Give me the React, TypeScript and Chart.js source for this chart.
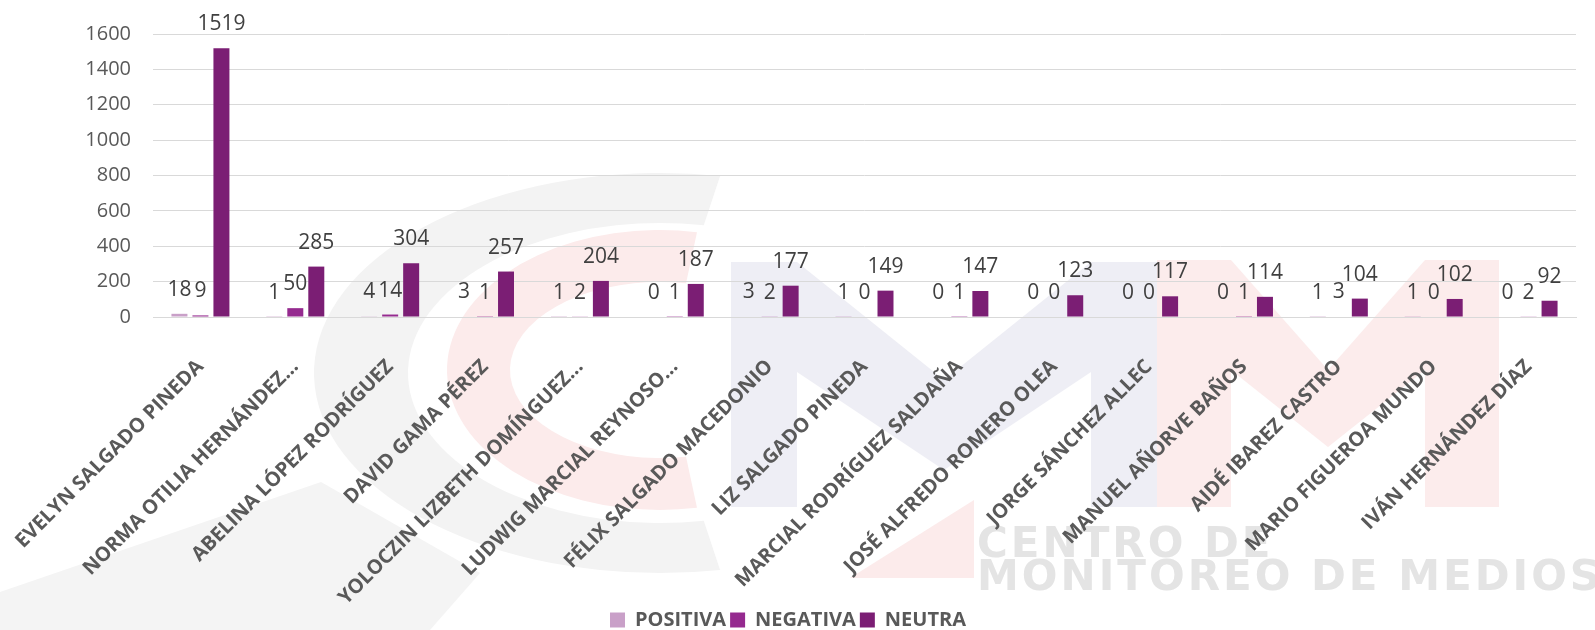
import React, { useEffect, useRef } from "react";
import { Chart, registerables } from "chart.js";

Chart.register(...registerables);

const CATEGORIES = [
  "EVELYN SALGADO PINEDA",
  "NORMA OTILIA HERNÁNDEZ...",
  "ABELINA LÓPEZ RODRÍGUEZ",
  "DAVID GAMA PÉREZ",
  "YOLOCZIN LIZBETH DOMÍNGUEZ...",
  "LUDWIG MARCIAL REYNOSO...",
  "FÉLIX SALGADO MACEDONIO",
  "LIZ SALGADO PINEDA",
  "MARCIAL RODRÍGUEZ SALDAÑA",
  "JOSÉ ALFREDO ROMERO OLEA",
  "JORGE SÁNCHEZ ALLEC",
  "MANUEL AÑORVE BAÑOS",
  "AIDÉ IBAREZ CASTRO",
  "MARIO FIGUEROA MUNDO",
  "IVÁN HERNÁNDEZ DÍAZ",
];
const POSITIVA = [18, 1, 4, 3, 1, 0, 3, 1, 0, 0, 0, 0, 1, 1, 0];
const NEGATIVA = [9, 50, 14, 1, 2, 1, 2, 0, 1, 0, 0, 1, 3, 0, 2];
const NEUTRA = [1519, 285, 304, 257, 204, 187, 177, 149, 147, 123, 117, 114, 104, 102, 92];
const SERIES_NAMES = ["POSITIVA", "NEGATIVA", "NEUTRA"];
const SERIES_COLORS = ["#C9A0C8", "#952A8F", "#7B1E74"];
const Y_MIN = 0;
const Y_MAX = 1600;
const Y_STEP = 200;
const WATERMARK_LINES = ["CENTRO DE", "MONITOREO DE MEDIOS"];

const deg = Math.PI / 180;

function ring(ctx: CanvasRenderingContext2D, cx: number, cy: number, rxo: number, ryo: number, rxi: number, ryi: number, color: string) {
  const a0 = -80 * deg;
  const a1 = 80 * deg;
  ctx.beginPath();
  ctx.ellipse(cx, cy, rxo, ryo, 0, a0, a1, true);
  ctx.ellipse(cx, cy, rxi, ryi, 0, a1, a0, false);
  ctx.closePath();
  ctx.fillStyle = color;
  ctx.fill();
}

function poly(ctx: CanvasRenderingContext2D, pts: number[][], color: string) {
  ctx.beginPath();
  pts.forEach((p, i) => (i === 0 ? ctx.moveTo(p[0], p[1]) : ctx.lineTo(p[0], p[1])));
  ctx.closePath();
  ctx.fillStyle = color;
  ctx.fill();
}

function mShape(L: number, R: number, top: number, bottom: number, colW: number, valleyTop: number, valleyBottom: number) {
  const mid = (L + R) / 2;
  return [
    [L, bottom], [L, top], [L + colW, top], [mid, valleyTop], [R - colW, top], [R, top],
    [R, bottom], [R - colW, bottom], [R - colW, top + 110], [mid, valleyBottom], [L + colW, top + 110], [L + colW, bottom],
  ];
}

const watermarkPlugin = {
  id: "watermark",
  beforeDraw(chart: any) {
    const ctx: CanvasRenderingContext2D = chart.ctx;
    ctx.save();
    ctx.fillStyle = "#ffffff";
    ctx.fillRect(0, 0, chart.width, chart.height);
    // gray swoosh
    poly(ctx, [[0, 592], [321, 482], [480, 573], [430, 630], [0, 630]], "#f4f4f4");
    // gray ring
    ring(ctx, 660, 373, 346, 200, 252, 150, "#f3f3f3");
    // red ring
    ring(ctx, 660, 370, 213, 140, 150, 88, "#fcebeb");
    // blue M
    poly(ctx, mShape(731, 1157, 262, 507, 66, 380, 470), "#eeeef5");
    // pink M
    poly(ctx, mShape(1157, 1499, 260, 507, 74, 370, 447), "#fcecec");
    // red wedge
    poly(ctx, [[974, 500], [974, 578], [850, 578]], "#fcebeb");
    // text
    ctx.fillStyle = "#e4e4e4";
    ctx.font = "bold 42px 'DejaVu Sans'";
    (ctx as any).letterSpacing = "3px";
    ctx.textAlign = "left";
    ctx.textBaseline = "alphabetic";
    ctx.fillText(WATERMARK_LINES[0], 977, 557);
    ctx.fillText(WATERMARK_LINES[1], 977, 590);
    (ctx as any).letterSpacing = "0px";
    ctx.restore();
  },
};

const dataLabelPlugin = {
  id: "dataLabels",
  afterDatasetsDraw(chart: any) {
    const ctx: CanvasRenderingContext2D = chart.ctx;
    ctx.save();
    ctx.font = "21px 'Open Sans'";
    ctx.fillStyle = "#404040";
    ctx.textAlign = "center";
    ctx.textBaseline = "middle";
    chart.data.datasets.forEach((ds: any, i: number) => {
      const meta = chart.getDatasetMeta(i);
      meta.data.forEach((bar: any, j: number) => {
        ctx.fillText(String(ds.data[j]), bar.x, bar.y - 24);
      });
    });
    ctx.restore();
  },
};

const layoutFixPlugin = {
  id: "layoutFix",
  afterLayout(chart: any) {
    const lg = chart.legend;
    if (lg) {
      lg.top += 10;
      lg.bottom += 10;
      if (lg.legendHitBoxes) lg.legendHitBoxes.forEach((b: any) => (b.top += 10));
    }
    const xs = chart.scales.x;
    if (xs) xs.bottom = chart.height;
  },
};

export default function App() {
  const canvasRef = useRef<HTMLCanvasElement>(null);

  useEffect(() => {
    if (!canvasRef.current) return;
    const chart = new Chart(canvasRef.current, {
      type: "bar",
      data: {
        labels: CATEGORIES,
        datasets: [
          { label: SERIES_NAMES[0], data: POSITIVA, backgroundColor: SERIES_COLORS[0] },
          { label: SERIES_NAMES[1], data: NEGATIVA, backgroundColor: SERIES_COLORS[1] },
          { label: SERIES_NAMES[2], data: NEUTRA, backgroundColor: SERIES_COLORS[2] },
        ],
      },
      options: {
        animation: false,
        responsive: true,
        maintainAspectRatio: false,
        layout: { padding: { top: 31, right: 19, left: 0, bottom: 0 } },
        datasets: { bar: { categoryPercentage: 0.664, barPercentage: 0.762 } } as any,
        scales: {
          x: {
            grid: { display: false, drawTicks: false },
            border: { display: true, color: "#d9d9d9" },
            ticks: {
              autoSkip: false,
              maxRotation: 45,
              minRotation: 45,
              padding: 38,
              labelOffset: 0,
              color: "#595959",
              font: { family: "'Open Sans'", weight: "bold", size: 20 },
            },
            afterFit(s: any) {
              s.height = 279;
              s.paddingLeft = 0;
              s.paddingRight = 0;
            },
          },
          y: {
            min: Y_MIN,
            max: Y_MAX,
            ticks: {
              stepSize: Y_STEP,
              padding: 22,
              color: "#595959",
              font: { family: "'Open Sans'", size: 20 },
              callback: (v: any) => String(v),
            },
            grid: { color: "#d9d9d9", drawTicks: false },
            border: { display: false },
            afterFit(s: any) {
              s.width = 153;
            },
          },
        },
        plugins: {
          legend: {
            position: "bottom",
            labels: {
              boxWidth: 15,
              boxHeight: 15,
              padding: 4,
              color: "#595959",
              font: { family: "'Open Sans'", weight: "bold", size: 20 },
            },
          },
          tooltip: { enabled: false },
        },
      },
      plugins: [watermarkPlugin, dataLabelPlugin, layoutFixPlugin],
    });
    return () => chart.destroy();
  }, []);

  return (
    <div style={{ position: "absolute", left: 0, top: 0, width: 1595, height: 630 }}>
      <canvas ref={canvasRef} />
    </div>
  );
}
